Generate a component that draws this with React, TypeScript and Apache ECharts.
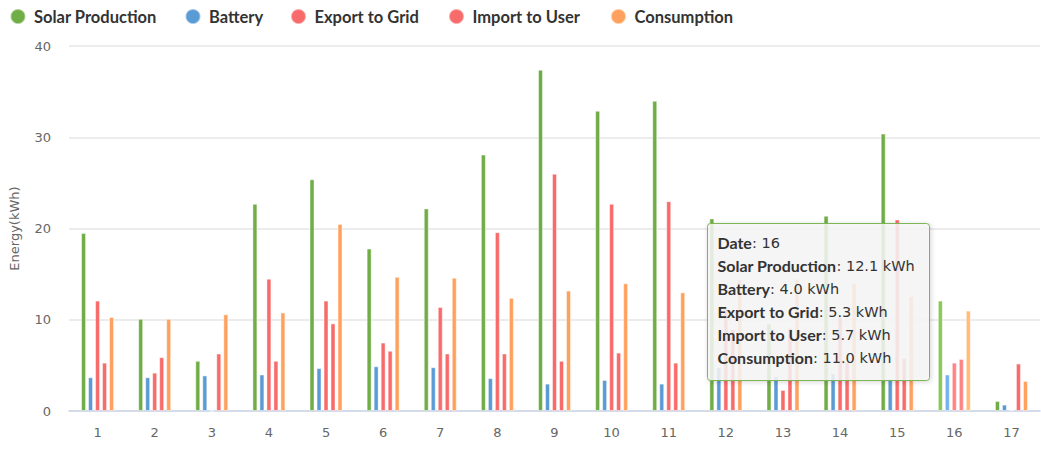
import React, { useEffect, useRef } from "react";
import * as echarts from "echarts";

const days = ["1", "2", "3", "4", "5", "6", "7", "8", "9", "10", "11", "12", "13", "14", "15", "16", "17"];
const solar = [19.5, 10.1, 5.5, 22.7, 25.4, 17.8, 22.2, 28.1, 37.4, 32.9, 34.0, 21.1, 9.6, 21.4, 30.4, 12.1, 1.1];
const battery = [3.7, 3.7, 3.9, 4.0, 4.7, 4.9, 4.8, 3.6, 3.0, 3.4, 3.0, 4.8, 3.8, 4.1, 3.5, 4.0, 0.7];
const exportGrid = [12.1, 4.2, 0, 14.5, 12.1, 7.5, 11.4, 19.6, 26.0, 22.7, 23.0, 11.3, 2.3, 10.3, 21.0, 5.3, 0.1];
const importUser = [5.3, 5.9, 6.3, 5.5, 9.6, 6.6, 6.3, 6.3, 5.5, 6.4, 5.3, 9.0, 9.1, 5.4, 5.8, 5.7, 5.2];
const consumption = [10.3, 10.1, 10.6, 10.8, 20.5, 14.7, 14.6, 12.4, 13.2, 14.0, 13.0, 14.4, 14.5, 14.0, 12.6, 11.0, 3.3];

const seriesNames = ["Solar Production", "Battery", "Export to Grid", "Import to User", "Consumption"];
const seriesData = [solar, battery, exportGrid, importUser, consumption];
const colors = ["#70ad47", "#5b9bd5", "#f86b6b", "#f86b6b", "#ffa15e"];
const hoverColors = ["#8bc75a", "#74b2ee", "#ff8585", "#ff8585", "#ffbb77"];
const legendLefts = [9.5, 184.5, 290, 448, 610];
const hoveredIndex = 15;

export default function App() {
  const ref = useRef<HTMLDivElement>(null);
  useEffect(() => {
    if (!ref.current) return;
    const chart = echarts.init(ref.current, undefined, { renderer: "svg" });
    const tipLines = [
      `{b|Date}{r|: ${days[hoveredIndex]}}`,
      ...seriesNames.map((n, i) => `{b|${n}}{r|: ${seriesData[i][hoveredIndex].toFixed(1)} kWh}`),
    ].join("\n");
    chart.setOption({
      animation: false,
      color: colors,
      grid: { left: 67, right: 1, top: 46, bottom: 42 },
      legend: seriesNames.map((n, i) => ({
        data: [n],
        left: legendLefts[i],
        top: 8,
        padding: 0,
        icon: "circle",
        itemWidth: 15,
        itemHeight: 15,
        textStyle: {
          fontFamily: "Lato",
          fontWeight: "bold",
          fontSize: 16.5,
          color: "#333",
          padding: [0, 0, 0, 3.5],
        },
      })),
      xAxis: {
        type: "category",
        data: days,
        axisLine: { lineStyle: { color: "#ccd6eb", width: 1.5 } },
        axisTick: { show: false },
        axisLabel: { color: "#666", fontSize: 13, fontFamily: "DejaVu Sans", margin: 15 },
      },
      yAxis: {
        type: "value",
        min: 0,
        max: 40,
        interval: 10,
        name: "Energy(kWh)",
        nameLocation: "middle",
        nameGap: 48,
        nameTextStyle: { color: "#666", fontSize: 13, fontFamily: "DejaVu Sans" },
        axisLabel: { color: "#666", fontSize: 13, fontFamily: "DejaVu Sans", margin: 18 },
        splitLine: { lineStyle: { color: "#e6e6e6", width: 1.5 } },
      },
      series: seriesNames.map((n, i) => ({
        name: n,
        type: "bar",
        data: seriesData[i],
        barWidth: 5,
        barGap: "40%",
        itemStyle: { color: colors[i], borderColor: "rgba(255,255,255,0.45)", borderWidth: 1 },
        emphasis: { itemStyle: { color: hoverColors[i], borderColor: "rgba(255,255,255,0.45)" } },
      })),
      graphic: [
        {
          type: "group",
          left: 707,
          top: 223,
          z: 100,
          children: [
            {
              type: "rect",
              z: 100,
              shape: { x: 0, y: 0, width: 222, height: 157, r: 3 },
              style: {
                fill: "rgba(247,247,247,0.85)",
                stroke: "#7cb655",
                lineWidth: 1,
                shadowBlur: 5,
                shadowColor: "rgba(0,0,0,0.18)",
                shadowOffsetX: 1,
                shadowOffsetY: 1,
              },
            },
            {
              type: "text",
              z: 101,
              x: 10,
              y: 4,
              style: {
                text: tipLines,
                fill: "#333",
                fontSize: 15,
                lineHeight: 23,
                rich: {
                  b: { fontFamily: "Lato", fontWeight: "bold", fontSize: 16, lineHeight: 23, fill: "#333", verticalAlign: "bottom" },
                  r: { fontFamily: "DejaVu Sans", fontSize: 14.5, lineHeight: 23, fill: "#333", verticalAlign: "bottom" },
                },
              },
            },
          ],
        },
      ],
    });
    chart.dispatchAction({ type: "highlight", seriesIndex: [0, 1, 2, 3, 4], dataIndex: hoveredIndex });
    return () => chart.dispose();
  }, []);
  return (
    <div
      ref={ref}
      style={{ position: "fixed", left: 0, top: 0, width: 1041, height: 453, background: "#fff" }}
    />
  );
}
